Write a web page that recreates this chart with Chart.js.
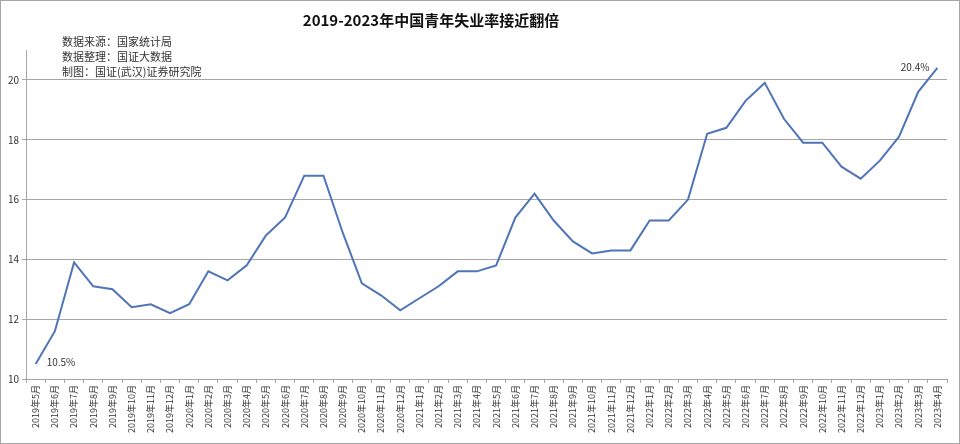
<!DOCTYPE html>
<html>
<head>
<meta charset="utf-8">
<script src="https://cdn.jsdelivr.net/npm/chart.js@4/dist/chart.umd.min.js"></script>
<style>
    html, body { margin: 0; padding: 0; background: #fff; }
    #wrap {
        position: relative;
        width: 960px;
        height: 444px;
        box-sizing: border-box;
        border: 1px solid #a6a6a6;
        font-family: "Noto Sans CJK SC", "DejaVu Sans", sans-serif;
    }
    #title {
        position: absolute;
        left: 0;
        top: 8px;
        width: 860px;
        text-align: center;
        font-size: 15px;
        font-weight: bold;
        color: #111;
    }
    #notes {
        position: absolute;
        left: 61px;
        top: 33px;
        font-size: 11px;
        line-height: 15px;
        color: #333;
    }
    canvas { position: absolute; left: 0; top: 0; }
</style>
</head>
<body>
<div id="wrap">
    <canvas id="rateChart" width="958" height="442"></canvas>
    <div id="title">2019-2023年中国青年失业率接近翻倍</div>
    <div id="notes">
        数据来源：国家统计局<br>
        数据整理：国证大数据<br>
        制图：国证(武汉)证券研究院
    </div>
</div>
<script>
const months = [
    '2019年5月', '2019年6月', '2019年7月', '2019年8月', '2019年9月', '2019年10月', '2019年11月', '2019年12月',
    '2020年1月', '2020年2月', '2020年3月', '2020年4月', '2020年5月', '2020年6月', '2020年7月', '2020年8月',
    '2020年9月', '2020年10月', '2020年11月', '2020年12月',
    '2021年1月', '2021年2月', '2021年3月', '2021年4月', '2021年5月', '2021年6月', '2021年7月', '2021年8月',
    '2021年9月', '2021年10月', '2021年11月', '2021年12月',
    '2022年1月', '2022年2月', '2022年3月', '2022年4月', '2022年5月', '2022年6月', '2022年7月', '2022年8月',
    '2022年9月', '2022年10月', '2022年11月', '2022年12月',
    '2023年1月', '2023年2月', '2023年3月', '2023年4月'
];

const youthRate = [
    10.5, 11.6, 13.9, 13.1, 13.0, 12.4, 12.5, 12.2,
    12.5, 13.6, 13.3, 13.8, 14.8, 15.4, 16.8, 16.8,
    14.9, 13.2, 12.8, 12.3,
    12.7, 13.1, 13.6, 13.6, 13.8, 15.4, 16.2, 15.3,
    14.6, 14.2, 14.3, 14.3,
    15.3, 15.3, 16.0, 18.2, 18.4, 19.3, 19.9, 18.7,
    17.9, 17.9, 17.1, 16.7,
    17.3, 18.1, 19.6, 20.4
];

const yTicks = [10, 12, 14, 16, 18, 20];

// labels on the first and last points
const endLabels = {
    id: 'endLabels',
    afterDatasetsDraw(chart) {
        const ctx = chart.ctx;
        const pts = chart.getDatasetMeta(0).data;
        const first = pts[0];
        const last = pts[pts.length - 1];
        ctx.save();
        ctx.font = '10px "Noto Sans CJK SC", sans-serif';
        ctx.fillStyle = '#333';
        ctx.textBaseline = 'middle';
        ctx.textAlign = 'left';
        ctx.fillText(youthRate[0].toFixed(1) + '%', first.x + 11, first.y - 2);
        ctx.textAlign = 'right';
        ctx.fillText(youthRate[youthRate.length - 1].toFixed(1) + '%', last.x - 8, last.y - 1);
        ctx.restore();
    }
};

const ctx = document.getElementById('rateChart').getContext('2d');
new Chart(ctx, {
    type: 'line',
    data: {
        labels: months,
        datasets: [{
            data: youthRate,
            borderColor: '#4f74b8',
            borderWidth: 2,
            pointRadius: 0,
            tension: 0,
            fill: false
        }]
    },
    options: {
        responsive: false,
        animation: false,
        layout: { padding: { left: 4, right: 12, top: 49, bottom: 8 } },
        plugins: {
            legend: { display: false },
            tooltip: { enabled: false }
        },
        scales: {
            x: {
                offset: true,
                grid: {
                    offset: true,
                    drawOnChartArea: false,
                    drawTicks: true,
                    tickLength: 4,
                    color: '#a6a6a6'
                },
                border: { color: '#a6a6a6' },
                ticks: {
                    autoSkip: false,
                    maxRotation: 90,
                    minRotation: 90,
                    padding: 2,
                    color: '#333',
                    font: { size: 9, family: '"Noto Sans CJK SC", sans-serif' }
                }
            },
            y: {
                min: 10,
                max: 21,
                afterBuildTicks(axis) {
                    axis.ticks = yTicks.map(v => ({ value: v }));
                },
                grid: {
                    color: '#a6a6a6',
                    tickLength: 4
                },
                border: { color: '#a6a6a6' },
                ticks: {
                    padding: 3,
                    color: '#333',
                    font: { size: 10, family: '"Noto Sans CJK SC", sans-serif' }
                }
            }
        }
    },
    plugins: [endLabels]
});
</script>
</body>
</html>
